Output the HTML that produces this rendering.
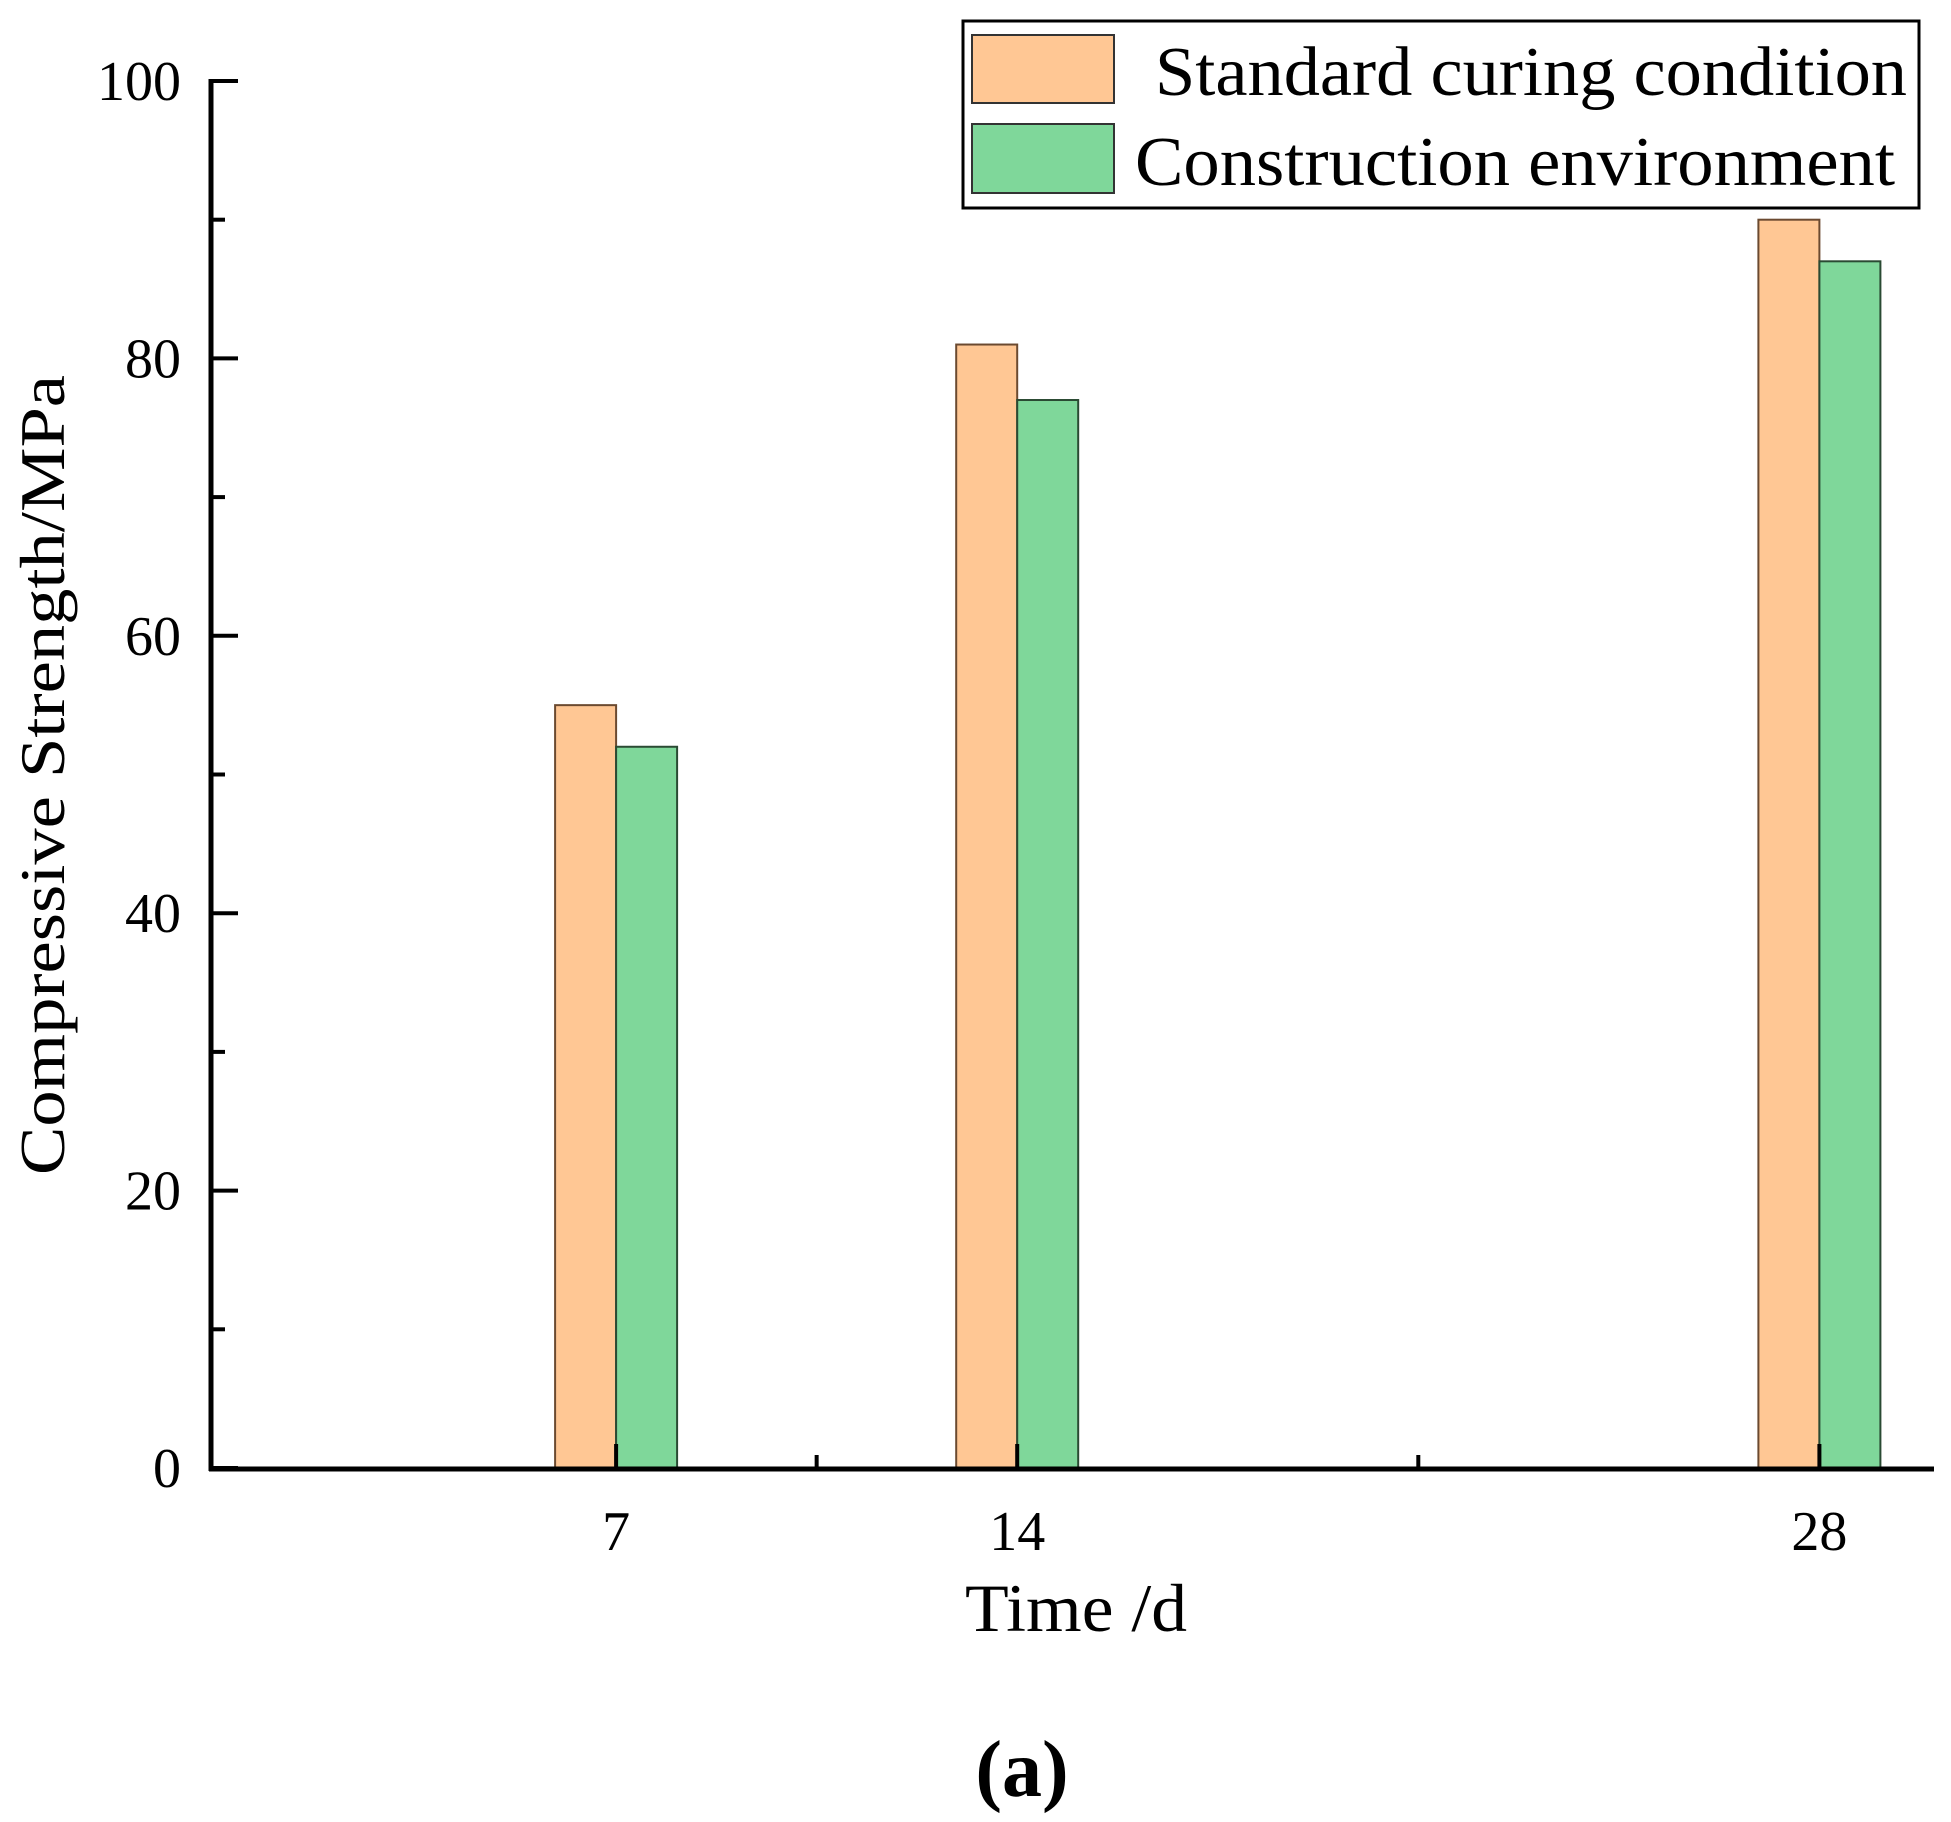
<!DOCTYPE html>
<html><head><meta charset="utf-8"><style>html,body{margin:0;padding:0;background:#fff}svg{display:block}text{font-family:"Liberation Serif",serif;fill:#000}</style></head>
<body>
<svg width="1951" height="1822" viewBox="0 0 1951 1822">
<g id="bars"></g>
<g id="axes"></g>
<text x="64" y="775" font-size="64" text-anchor="middle" transform="rotate(-90 64 775)" textLength="800" lengthAdjust="spacingAndGlyphs">Compressive Strength/MPa</text>
<text x="1076" y="1631" font-size="68" text-anchor="middle" textLength="222" lengthAdjust="spacingAndGlyphs">Time /d</text>
<text x="1022" y="1796" font-size="80" font-weight="bold" text-anchor="middle">(a)</text>
<g>
<rect x="963" y="21" width="956" height="187" fill="#fff" stroke="#000" stroke-width="3"/>
<rect x="972" y="35" width="142" height="68" fill="#ffc794" stroke="#333" stroke-width="2"/>
<rect x="972" y="124" width="142" height="69" fill="#7fd79a" stroke="#333" stroke-width="2"/>
<text x="1155" y="95" font-size="70" textLength="752" lengthAdjust="spacingAndGlyphs">Standard curing condition</text>
<text x="1135" y="185" font-size="70" textLength="760" lengthAdjust="spacingAndGlyphs">Construction environment</text>
</g>
</svg>
<script>
const categories=[7,14,28];
const standardValues=[55,81,90];
const constructionValues=[52,77,87];
const yTicks=[0,20,40,60,80,100];
const yMinorTicks=[10,30,50,70,90];
const xMinorTicks=[10.5,21];
const NS='http://www.w3.org/2000/svg';
function xScale(d){return 215+d*57.3;}
function yScale(v){return 1468-v*13.87;}
const bw=61;
const bars=document.getElementById('bars');
const axes=document.getElementById('axes');
function mk(tag,attrs,parent){const e=document.createElementNS(NS,tag);for(const k in attrs)e.setAttribute(k,attrs[k]);parent.appendChild(e);return e;}
categories.forEach((c,i)=>{
  const x=xScale(c);
  const r1=mk('rect',{x:x-bw,y:yScale(standardValues[i]),width:bw,height:yScale(0)-yScale(standardValues[i]),fill:'#ffc794',stroke:'#6b4a30','stroke-width':2},bars);
  
  
  const r2=mk('rect',{x:x,y:yScale(constructionValues[i]),width:bw,height:yScale(0)-yScale(constructionValues[i]),fill:'#7fd79a',stroke:'#2a4a33','stroke-width':2},bars);
  
  
  const t=mk('line',{x1:x,x2:x,y1:yScale(0),y2:yScale(0)-24,stroke:'#000','stroke-width':4},axes);
  
  
  const l=mk('text',{x:x,y:1550,'font-size':56,'text-anchor':'middle'},axes);
  l.textContent=c;
  
  
});
xMinorTicks.forEach(d=>{
  const t=mk('line',{x1:xScale(d),x2:xScale(d),y1:yScale(0),y2:yScale(0)-13,stroke:'#000','stroke-width':4},axes);
  
  
});
yTicks.forEach(v=>{
  const y=yScale(v);
  const t=mk('line',{x1:211,x2:238,y1:y,y2:y,stroke:'#000','stroke-width':4},axes);
  
  
  const l=mk('text',{x:181,y:y+19,'font-size':56,'text-anchor':'end'},axes);
  l.textContent=v;
  
  
});
yMinorTicks.forEach(v=>{
  const t=mk('line',{x1:211,x2:225,y1:yScale(v),y2:yScale(v),stroke:'#000','stroke-width':4},axes);
  
  
});
const ya=mk('line',{x1:211,x2:211,y1:yScale(100)-2,y2:yScale(0)+3,stroke:'#000','stroke-width':5},axes);


const xa=mk('line',{x1:209,x2:1934,y1:yScale(0)+1,y2:yScale(0)+1,stroke:'#000','stroke-width':5},axes);


</script>
</body></html>
